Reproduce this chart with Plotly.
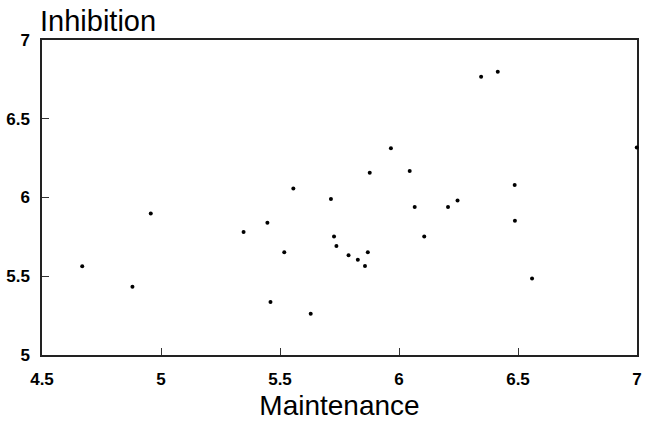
import plotly.graph_objects as go

maintenance = [4.669, 4.880, 4.957, 5.347, 5.447, 5.556, 5.518, 5.460, 5.629, 5.714,
               5.727, 5.737, 6.345, 6.415, 5.966, 5.877, 6.045, 6.486, 6.066, 6.206,
               6.246, 6.487, 5.788, 5.827, 5.857, 5.869, 6.106, 6.559, 6.999]
inhibition = [5.563, 5.434, 5.898, 5.781, 5.839, 6.057, 5.652, 5.337, 5.262, 5.991,
              5.752, 5.692, 6.766, 6.799, 6.313, 6.157, 6.168, 6.080, 5.939, 5.939,
              5.981, 5.852, 5.633, 5.605, 5.565, 5.652, 5.752, 5.486, 6.317]

x_ticks = [4.5, 5, 5.5, 6, 6.5, 7]
x_tick_labels = ["4.5", "5", "5.5", "6", "6.5", "7"]
y_ticks = [5, 5.5, 6, 6.5, 7]
y_tick_labels = ["5", "5.5", "6", "6.5", "7"]

FONT = "Liberation Sans"

fig = go.Figure(go.Scatter(
    x=maintenance, y=inhibition, mode="markers",
    marker=dict(symbol="circle", size=4, color="black"),
    cliponaxis=False, showlegend=False, hoverinfo="x+y"))

axis_common = dict(
    showgrid=False, zeroline=False, showline=True, linecolor="#222", linewidth=1.5,
    mirror=True, ticks="inside", ticklen=7, tickwidth=1.2, tickcolor="#333",
    tickfont=dict(family=FONT, size=17, color="black", weight="bold"),
    ticklabeloverflow="allow", layer="below traces",
)

fig.update_xaxes(range=[4.5, 7], tickvals=x_ticks, ticktext=x_tick_labels,
                 title=dict(text="Maintenance", font=dict(family=FONT, size=28, color="black"),
                            standoff=7),
                 ticklabelstandoff=8, **axis_common)
fig.update_yaxes(range=[5, 7], tickvals=y_ticks, ticktext=y_tick_labels,
                 ticklabelstandoff=7, **axis_common)

fig.add_annotation(text="Inhibition", xref="paper", yref="paper", x=0, y=1,
                   xanchor="left", yanchor="bottom", xshift=-4, yshift=1,
                   showarrow=False, font=dict(family=FONT, size=29, color="black"))

fig.update_layout(width=647, height=421, margin=dict(l=42, r=5, t=40, b=61),
                  plot_bgcolor="white", paper_bgcolor="white")

fig.write_html("out.html", config={"displayModeBar": False},
               post_script="document.body.style.margin='0';document.body.style.overflow='hidden';")
